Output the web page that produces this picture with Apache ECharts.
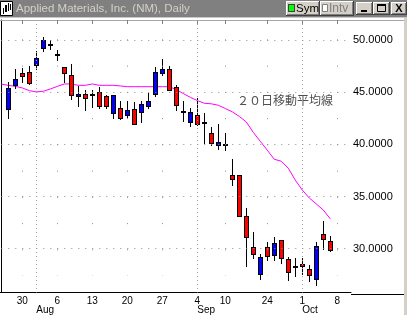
<!DOCTYPE html>
<html><head><meta charset="utf-8">
<script src="https://cdn.jsdelivr.net/npm/echarts@6/dist/echarts.min.js"></script>
<style>html,body{margin:0;padding:0;background:#fff;overflow:hidden}#c{width:407px;height:315px}</style>
</head><body><div id="c"></div>
<script>
const dates = ['07/25','07/26','07/27','07/30','07/31','08/01','08/02','08/03','08/06','08/07','08/08','08/09','08/10','08/13','08/14','08/15','08/16','08/17','08/20','08/21','08/22','08/23','08/24','08/27','08/28','08/29','08/30','08/31','09/04','09/05','09/06','09/07','09/10','09/17','09/18','09/19','09/20','09/21','09/24','09/25','09/26','09/27','09/28','10/01','10/02','10/03','10/04','10/05','10/08','10/09'];
const opens = [null,43.4,45.69,46.83,46.92,47.59,49.21,49.62,48.64,47.43,46.67,44.6,44.86,44.83,45.02,44.67,43.02,43.5,42.79,43.43,43.08,43.65,44.83,46.83,47.21,45.52,43.17,42.16,42.79,42.1,41.05,39.97,40.03,37.02,37.02,33.11,30.16,27.55,30.16,29.4,30.86,29.02,28.38,28.54,28.07,27.08,31.43,30.73,null,null];
const closes = [null,45.4,46.26,46.5,45.88,48.26,49.97,49.62,48.64,46.79,44.7,44.86,44.45,44.83,43.65,43.65,44.76,42.54,43.24,41.97,43.9,44.19,46.92,47.24,45.17,43.81,43.17,43.11,41.9,42.1,40.16,40.26,40.03,36.64,33.11,31.11,29.46,29.21,29.3,30.54,29.11,27.75,28.38,28.35,27.5,30.26,30.92,29.9,null,null];
const lows = [null,42.54,45.4,45.97,45.78,47.21,48.89,49.11,48.12,45.97,44.38,43.65,43.27,43.55,43.5,43.5,42.48,42.38,42.64,41.9,42.12,43.5,44.6,46.6,45.17,43.33,42.22,41.75,41.81,40.16,39.97,39.52,39.46,36.1,33.11,28.31,29.14,27.14,28.89,28.92,28.67,26.98,27.4,27.62,26.89,26.5,29.93,29.78,null,null];
const highs = [null,45.97,47.21,47.3,47.5,48.95,50.29,50.0,49.05,47.43,47.71,45.62,45.2,45.2,45.46,44.76,44.76,44.13,44.13,44.07,44.19,44.92,47.37,48.19,47.5,45.71,44.19,43.5,44.45,43.02,41.65,41.9,41.05,38.57,37.02,33.87,31.59,29.52,30.63,31.17,30.86,29.24,29.11,29.11,28.41,30.63,32.67,31.21,null,null];
const ma20 = [45.76,45.65,45.55,45.4,45.14,45.02,45.08,45.3,45.55,45.78,45.78,45.65,45.65,45.78,45.65,45.65,45.65,45.59,45.52,45.52,45.52,45.52,45.52,45.52,45.52,45.24,44.86,44.5,44.19,43.93,43.88,43.74,43.43,43.11,42.67,42.14,41.14,40.29,39.43,38.57,38.38,37.71,36.57,35.62,34.86,34.29,33.71,32.86,null,null];
const weekDates = ['07/30','08/06','08/13','08/20','08/27','09/04','09/10','09/24','10/01','10/08'];
const weekLabels = ['30','6','13','20','27','4','10','24','1','8'];
const monthDates = ['08/01','09/04','10/01'];
const monthLabels = ['Aug','Sep','Oct'];
const priceTicks = [30,35,40,45,50];
const maLabel = '２０日移動平均線';
const titleText = 'Applied Materials, Inc. (NM), Daily';

const weekIdx = weekDates.map(d => dates.indexOf(d));
const monthIdx = monthDates.map(d => dates.indexOf(d));
const xMin = -0.1857, xMax = 49.957, yMin = 25.81, yMax = 51.905;

const candleData = [];
dates.forEach((d, i) => { if (opens[i] != null) candleData.push([i, opens[i], closes[i], lows[i], highs[i]]); });

const dotColor = '#8c8c8c';
const gridLines = [];
priceTicks.forEach(v => gridLines.push([{coord:[0, v], lineStyle:{color:dotColor, width:1, type:[1,6]}}, {coord:[xMax, v]}]));
monthIdx.forEach(i => gridLines.push([{coord:[i, yMax], lineStyle:{color:'#a0a0a0', width:1, type:[1,3]}}, {coord:[i, yMin]}]));
weekIdx.forEach(i => { if (monthIdx.indexOf(i) < 0) gridLines.push([{coord:[i, 50.05], lineStyle:{color:dotColor, width:1, type:[1,25.25]}}, {coord:[i, 27.4]}]); });

function renderCandle(params, api) {
  const x = api.value(0), o = api.value(1), c = api.value(2), l = api.value(3), h = api.value(4);
  const pO = api.coord([x, o]), pC = api.coord([x, c]), pL = api.coord([x, l]), pH = api.coord([x, h]);
  const cx = Math.round(pO[0]);
  const top = Math.round(Math.min(pO[1], pC[1])), bot = Math.round(Math.max(pO[1], pC[1]));
  const yh = Math.round(pH[1]), yl = Math.round(pL[1]);
  const ch = [{type:'rect', shape:{x:cx, y:yh, width:1, height:yl - yh + 1}, style:{fill:'#000'}}];
  if (bot - top < 2) {
    ch.push({type:'rect', shape:{x:cx-2, y:top, width:5, height:2}, style:{fill:'#000'}});
  } else {
    ch.push({type:'rect', shape:{x:cx-2, y:top, width:5, height:bot-top+1}, style:{fill:'#000'}});
    ch.push({type:'rect', shape:{x:cx-1, y:top+1, width:3, height:bot-top-1}, style:{fill: c >= o ? '#0000ff' : '#ff0000'}});
  }
  return {type:'group', children: ch};
}

function bevel(x, y, w, h) {
  return [
    {type:'rect', shape:{x:x, y:y, width:w, height:h}, style:{fill:'#404040'}},
    {type:'rect', shape:{x:x, y:y, width:w-1, height:h-1}, style:{fill:'#ffffff'}},
    {type:'rect', shape:{x:x+1, y:y+1, width:w-2, height:h-2}, style:{fill:'#808080'}},
    {type:'rect', shape:{x:x+1, y:y+1, width:w-3, height:h-3}, style:{fill:'#d4d0c8'}}
  ];
}

const graphics = [
  {type:'rect', shape:{x:0, y:0, width:407, height:17}, style:{fill:'#808080'}},
  {type:'rect', shape:{x:0, y:17, width:407, height:1}, style:{fill:'#c8c8c8'}},
  {type:'rect', shape:{x:0.5, y:1.5, width:12, height:14}, style:{fill:'#fff', stroke:'#000', lineWidth:1}},
  {type:'rect', shape:{x:3, y:8, width:1, height:6}, style:{fill:'#000'}},
  {type:'rect', shape:{x:5, y:5, width:2, height:7}, style:{fill:'#000'}},
  {type:'rect', shape:{x:8, y:3, width:1, height:8}, style:{fill:'#000'}},
  {type:'rect', shape:{x:10, y:4, width:1, height:6}, style:{fill:'#000'}},
  {type:'text', style:{x:16, y:9, text:titleText, fill:'#d4d0c8', fontSize:11.5, fontFamily:'Liberation Sans, Arial, sans-serif', verticalAlign:'middle'}},
  ...bevel(286, 1, 34, 15),
  {type:'rect', shape:{x:288, y:4, width:7, height:8}, style:{fill:'#404040'}},
  {type:'rect', shape:{x:289, y:5, width:5, height:6}, style:{fill:'#00ff00'}},
  {type:'text', style:{x:296, y:9, text:'Sym', fill:'#000', fontSize:11.5, fontFamily:'Liberation Sans, Arial, sans-serif', verticalAlign:'middle'}},
  ...bevel(320, 1, 34, 15),
  {type:'rect', shape:{x:322.5, y:4.5, width:5, height:7}, style:{fill:'#fff', stroke:'#808080', lineWidth:1}},
  {type:'text', style:{x:329, y:9, text:'Intv', fill:'#808080', fontSize:12, fontFamily:'Liberation Sans, Arial, sans-serif', verticalAlign:'middle', textShadowColor:'#fff', textShadowOffsetX:1, textShadowOffsetY:1, textShadowBlur:0}},
  ...bevel(356, 2, 17, 13),
  {type:'rect', shape:{x:361, y:10, width:6, height:2}, style:{fill:'#000'}},
  ...bevel(373, 2, 17, 13),
  {type:'rect', shape:{x:377.5, y:4.5, width:8, height:7}, style:{fill:'none', stroke:'#000', lineWidth:1}},
  {type:'rect', shape:{x:377, y:4, width:9, height:2}, style:{fill:'#000'}},
  ...bevel(391, 2, 16, 13),
  {type:'text', style:{x:399, y:9, text:'X', fill:'#000', fontSize:11, fontWeight:'bold', fontFamily:'Liberation Sans, Arial, sans-serif', align:'center', verticalAlign:'middle'}},
  {type:'rect', shape:{x:351, y:20, width:53, height:1}, style:{fill:'#a8a8a8'}},
  {type:'rect', shape:{x:351, y:294, width:54, height:1}, style:{fill:'#000'}},
  {type:'rect', shape:{x:404, y:18, width:3, height:297}, style:{fill:'#d4d0c8'}},
  {type:'text', style:{x:237, y:100, text:maLabel, fill:'#505050', fontSize:12, fontFamily:'Noto Sans CJK JP, sans-serif', verticalAlign:'middle'}}
];

const chart = echarts.init(document.getElementById('c'), null, {renderer:'canvas'});
chart.setOption({
  animation: false,
  backgroundColor: '#fff',
  grid: {left:0, right:56, top:20, bottom:21, containLabel:false},
  xAxis: [
    {type:'value', min:xMin, max:xMax, position:'bottom',
      axisLine:{show:true, lineStyle:{color:'#000', width:1}}, axisTick:{show:false}, splitLine:{show:false},
      axisLabel:{customValues:weekIdx, formatter:v => weekLabels[weekIdx.indexOf(v)] || '', color:'#000', fontSize:10, margin:4, fontFamily:'Liberation Sans, Arial, sans-serif'}},
    {type:'value', min:xMin, max:xMax, position:'bottom',
      axisLine:{show:false}, axisTick:{show:false}, splitLine:{show:false},
      axisLabel:{customValues:monthIdx, formatter:v => monthLabels[monthIdx.indexOf(v)] || '', color:'#000', fontSize:10, margin:12.5, align:'left', fontFamily:'Liberation Sans, Arial, sans-serif'}},
    {type:'value', min:xMin, max:xMax, position:'top',
      axisLine:{show:true, lineStyle:{color:'#a8a8a8', width:1}},
      axisTick:{show:true, inside:true, length:4, customValues:weekIdx, lineStyle:{color:'#808080'}},
      axisLabel:{show:false}, splitLine:{show:false}}
  ],
  yAxis: {type:'value', min:yMin, max:yMax, position:'right',
    axisLine:{show:true, lineStyle:{color:'#000', width:1}}, axisTick:{show:false}, splitLine:{show:false},
    axisLabel:{customValues:priceTicks, formatter:v => v.toFixed(4), color:'#000', fontSize:11, margin:2, fontFamily:'Liberation Sans, Arial, sans-serif'}},
  graphic: graphics,
  series: [
    {type:'line', name:'MA20', data: ma20.map((v, i) => [i, v]), showSymbol:false, symbol:'none', z:1,
      lineStyle:{color:'#ff00ff', width:1}, connectNulls:false,
      markLine:{silent:true, symbol:['none','none'], label:{show:false}, animation:false, data: gridLines}},
    {type:'custom', name:'Price', data: candleData, renderItem: renderCandle, z:3, clip:false,
      encode:{x:0, y:[1,2,3,4]}}
  ]
});
</script></body></html>
